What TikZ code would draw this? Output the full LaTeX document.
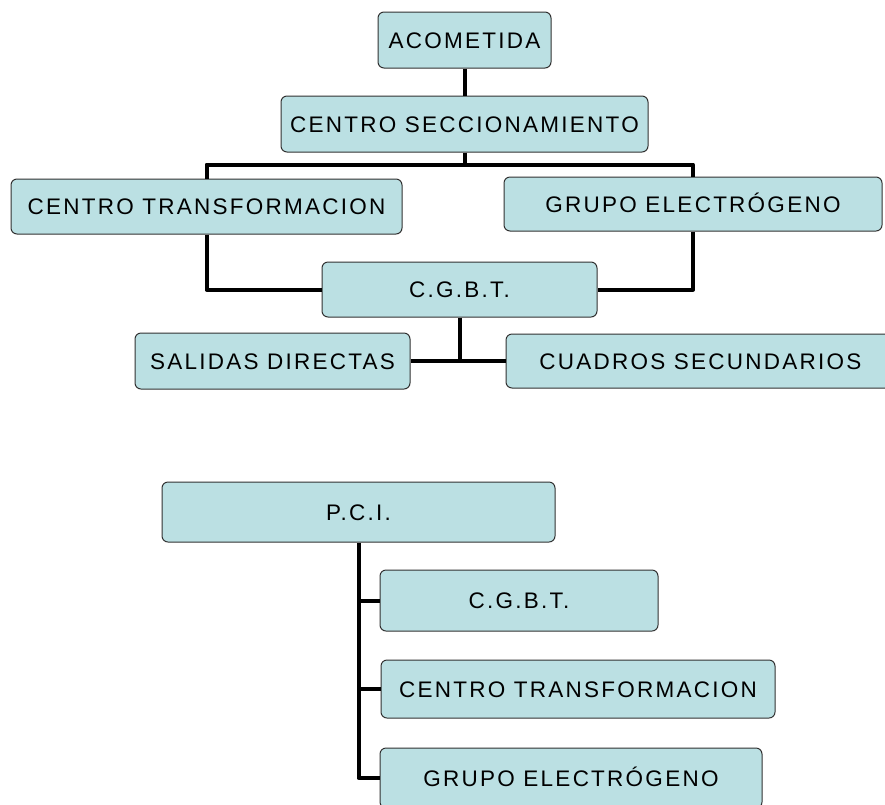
\documentclass[tikz,border=0pt]{standalone}
\usepackage{fontspec}
\setmainfont{Liberation Sans}[LetterSpace=10]
\definecolor{fondocaja}{RGB}{187,224,227}
\definecolor{bordecaja}{RGB}{50,50,50}
\begin{document}
\begin{tikzpicture}[x=1pt,y=-1pt,line join=round,
		caja/.style={draw=bordecaja,fill=fondocaja,line width=1pt,rounded corners=6pt,inner sep=0pt,
			text height=16pt,text depth=0pt,font=\fontsize{22.5}{25}\selectfont},
		enlace/.style={line width=4pt,black}]
		\clip (0,0) rectangle (885,804);
		\fill[white] (0,0) rectangle (885,804);
		\node[caja,minimum width=173pt,minimum height=56pt] (acom) at (464.5,40) {ACOMETIDA};
		\node[caja,minimum width=367pt,minimum height=56pt] (secc) at (464.5,124) {CENTRO SECCIONAMIENTO};
		\node[caja,minimum width=391pt,minimum height=55pt] (trafo) at (206.5,206.5) {CENTRO TRANSFORMACION};
		\node[caja,minimum width=378pt,minimum height=54pt] (grupo) at (693,204) {GRUPO ELECTRÓGENO};
		\node[caja,minimum width=275pt,minimum height=55pt] (cgbt) at (459.5,289.5) {C.G.B.T.};
		\node[caja,minimum width=275pt,minimum height=56pt] (salidas) at (272.5,361) {SALIDAS DIRECTAS};
		\node[caja,minimum width=389pt,minimum height=54pt] (cuadros) at (700.5,361) {CUADROS SECUNDARIOS};
		\draw[enlace] (acom.south)--(secc.north);
		\draw[enlace] (secc.south)--++(0,12) coordinate (bus);
		\draw[enlace] (trafo.north) |- (bus) -| (grupo.north);
		\draw[enlace] (trafo.south) |- (cgbt.west);
		\draw[enlace] (grupo.south) |- (cgbt.east);
		\draw[enlace] (salidas.east)--(cuadros.west);
		\draw[enlace] (cgbt.south)--(cgbt.south |- salidas.east);
		\node[caja,minimum width=393pt,minimum height=60pt] (pci) at (358.5,512) {P.C.I.};
		\node[caja,minimum width=278pt,minimum height=61pt] (cgbtb) at (519,600.5) {C.G.B.T.};
		\node[caja,minimum width=394pt,minimum height=58pt] (trafob) at (578,689) {CENTRO TRANSFORMACION};
		\node[caja,minimum width=382pt,minimum height=60pt] (grupob) at (571,778) {GRUPO ELECTRÓGENO};
		\draw[enlace] (pci.south) |- (grupob.west);
		\draw[enlace] (pci.south |- cgbtb.west)--(cgbtb.west);
		\draw[enlace] (pci.south |- trafob.west)--(trafob.west);
	\end{tikzpicture}
\end{document}
